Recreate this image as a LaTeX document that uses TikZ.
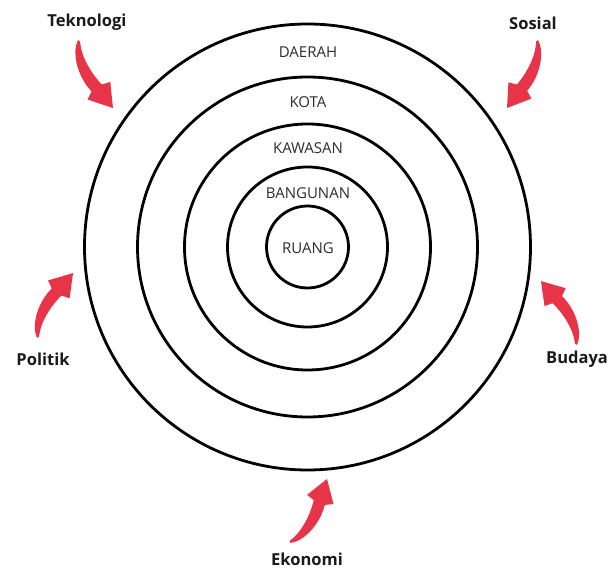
\documentclass[tikz,border=0pt]{standalone}
\usepackage{fontspec}
\setmainfont{Open Sans}
\definecolor{arrowred}{RGB}{232,52,72}
\definecolor{ringtext}{RGB}{45,45,45}
\definecolor{outertext}{RGB}{26,26,26}
\tikzset{
  ring/.style={draw=black, line width=2.8pt},
  ringlabel/.style={text=ringtext, font=\fontsize{15}{18}\selectfont, inner sep=0pt},
  forcelabel/.style={text=outertext, font=\bfseries\fontsize{16.5}{20}\selectfont, inner sep=0pt},
  redfill/.style={fill=arrowred, draw=none}
}
\newcommand{\curvedarrowshape}{%
  \fill[redfill] (0,0) .. controls (0.1,0.14) and (0.4,0.23) .. (0.68,0.15)
    -- (0.75,0.245) -- (1,0) -- (0.68,-0.125) -- (0.66,-0.01)
    .. controls (0.45,0.05) and (0.2,0.06) .. (0.03,-0.015) -- cycle;}
\begin{document}
\begin{tikzpicture}[x=1pt,y=1pt]
\useasboundingbox (0,0) rectangle (612,569);
\fill[white] (0,0) rectangle (612,569);
\coordinate (ctr) at (307.5,322);
\draw[ring] (ctr) circle[radius=223];
\draw[ring] (ctr) circle[radius=170];
\draw[ring] (ctr) circle[radius=123];
\draw[ring] (ctr) circle[radius=80];
\draw[ring] (ctr) circle[radius=41];
\node[ringlabel] (daerah) at (308,517) {DAERAH};
\node[ringlabel] (kota) at (308,467) {KOTA};
\node[ringlabel] (kawasan) at (308,421) {KAWASAN};
\node[ringlabel] (bangunan) at (308,376) {BANGUNAN};
\node[ringlabel] (ruang) at (308,321) {RUANG};
\node[forcelabel] (teknologi) at (87,547) {Teknologi};
\node[forcelabel] (sosial) at (533,546) {Sosial};
\node[forcelabel] (politik) at (43,210) {Politik};
\node[forcelabel] (budaya) at (577,210) {Budaya};
\node[forcelabel] (ekonomi) at (307,10) {Ekonomi};
\coordinate (tekTail) at (78,529);
\coordinate (sosTail) at (538,529);
\coordinate (polTail) at (37,231);
\coordinate (budTail) at (577,224);
\coordinate (ekoTail) at (290,26);
\begin{scope}[shift={(tekTail)}, rotate=-62.8, scale=76.5, yscale=-1]\curvedarrowshape\end{scope}
\begin{scope}[shift={(sosTail)}, rotate=-114.5, scale=74.7]\curvedarrowshape\end{scope}
\begin{scope}[shift={(polTail)}, rotate=61, scale=74.3]\curvedarrowshape\end{scope}
\begin{scope}[shift={(budTail)}, rotate=119.4, scale=73.4, yscale=-1]\curvedarrowshape\end{scope}
\begin{scope}[shift={(ekoTail)}, rotate=60, scale=74, yscale=-1]\curvedarrowshape\end{scope}
\end{tikzpicture}
\end{document}
